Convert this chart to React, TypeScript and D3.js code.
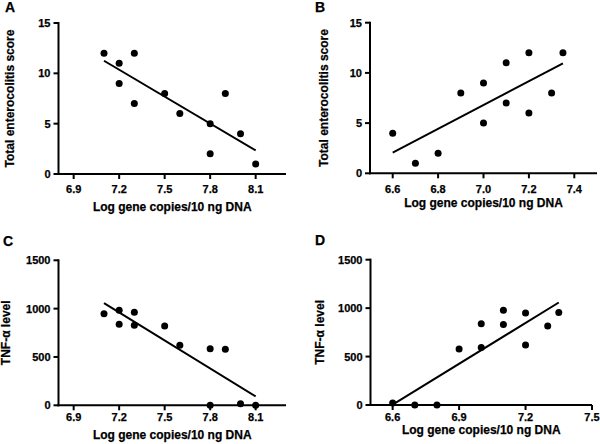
import React from "react";
import * as d3 from "d3";

// ---- Data ----
const aX = [7.1, 7.2, 7.2, 7.3, 7.3, 7.5, 7.6, 7.8, 7.8, 7.9, 8.0, 8.1];
const aY = [12, 11, 9, 12, 7, 8, 6, 5, 2, 8, 4, 1];
const aFitX = [7.1, 8.1];
const aFitY = [11.25, 2.35];

const bX = [6.6, 6.7, 6.8, 6.9, 7.0, 7.0, 7.1, 7.1, 7.2, 7.2, 7.3, 7.35];
const bY = [4, 1, 2, 8, 9, 5, 11, 7, 12, 6, 8, 12];
const bFitX = [6.6, 7.35];
const bFitY = [2.05, 10.95];

const cX = [7.1, 7.2, 7.2, 7.3, 7.3, 7.5, 7.6, 7.8, 7.8, 7.9, 8.0, 8.1];
const cY = [947, 982, 838, 962, 827, 820, 620, 585, 0, 579, 17, 0];
const cFitX = [7.1, 8.1];
const cFitY = [1058, 92];

const dX = [6.6, 6.7, 6.8, 6.9, 7.0, 7.0, 7.1, 7.1, 7.2, 7.2, 7.3, 7.35];
const dY = [20, 0, 0, 579, 593, 840, 977, 830, 949, 620, 815, 956];
const dFitX = [6.6, 7.35];
const dFitY = [3, 1058];

const ticksXA = [6.9, 7.2, 7.5, 7.8, 8.1];
const ticksXB = [6.6, 6.8, 7.0, 7.2, 7.4];
const ticksXD = [6.6, 6.9, 7.2, 7.5];
const ticksScore = [0, 5, 10, 15];
const ticksTnf = [0, 500, 1000, 1500];

const xTitle = "Log gene copies/10 ng DNA";
const scoreTitle = "Total enterocolitis score";
const tnfTitle = "TNF-α level";

const FONT = "'Liberation Sans', Arial, Helvetica, sans-serif";

type PanelProps = {
  letter: string;
  letterPos: [number, number];
  xs: number[];
  ys: number[];
  fitX: number[];
  fitY: number[];
  xDomain: [number, number];
  xRange: [number, number];
  yDomain: [number, number];
  yRange: [number, number];
  xTicks: number[];
  yTicks: number[];
  xFmt: (v: number) => string;
  yTitle: string;
  yTitleX: number;
  xTitleY: number;
  tickLabelY: number;
};

function Panel(p: PanelProps) {
  const x = d3.scaleLinear().domain(p.xDomain).range(p.xRange);
  const y = d3.scaleLinear().domain(p.yDomain).range(p.yRange);
  const axX = p.xRange[0];
  const axY = p.yRange[0];
  const line = d3
    .line<number>()
    .x((_, i) => x(p.fitX[i]))
    .y((v) => y(v));
  const tl = 5;
  return (
    <g fontFamily={FONT} fontWeight="bold" fill="#000">
      <g stroke="#000" strokeWidth={0.25}>
        <text x={p.letterPos[0]} y={p.letterPos[1]} fontSize={14}>
          {p.letter}
        </text>
        {p.yTicks.map((t) => (
          <text key={"ytl" + t} x={axX - tl - 3} y={y(t)} dy="0.36em" fontSize={11} textAnchor="end">
            {t}
          </text>
        ))}
        {p.xTicks.map((t) => (
          <text key={"xtl" + t} x={x(t)} y={p.tickLabelY} fontSize={11} textAnchor="middle">
            {p.xFmt(t)}
          </text>
        ))}
        <text
          x={(p.xRange[0] + p.xRange[1]) / 2}
          y={p.xTitleY}
          fontSize={12}
          textAnchor="middle"
        >
          {xTitle}
        </text>
        <text
          transform={`translate(${p.yTitleX},${(p.yRange[0] + p.yRange[1]) / 2}) rotate(-90)`}
          fontSize={12}
          textAnchor="middle"
        >
          {p.yTitle}
        </text>
      </g>
      {/* y axis */}
      <line x1={axX} x2={axX} y1={p.yRange[0] + 1} y2={p.yRange[1] - 1} stroke="#000" strokeWidth={2} />
      {p.yTicks.map((t) => (
        <line key={"yt" + t} x1={axX - tl} x2={axX} y1={y(t)} y2={y(t)} stroke="#000" strokeWidth={2} />
      ))}
      {/* x axis */}
      <line x1={axX - 1} x2={p.xRange[1]} y1={axY} y2={axY} stroke="#000" strokeWidth={2} />
      {p.xTicks.map((t) => (
        <line key={"xt" + t} x1={x(t)} x2={x(t)} y1={axY} y2={axY + tl} stroke="#000" strokeWidth={2} />
      ))}
      <path d={line(p.fitY) || ""} fill="none" stroke="#000" strokeWidth={2} />
      {p.xs.map((v, i) => (
        <circle key={"pt" + i} cx={x(v)} cy={y(p.ys[i])} r={3.5} fill="#000" />
      ))}
    </g>
  );
}

export default function App() {
  const f1 = d3.format(".1f");
  return (
    <svg
      width={600}
      height={444}
      style={{ position: "absolute", left: 0, top: 0, background: "#fff" }}
    >
      <rect width={600} height={444} fill="#fff" />
      <Panel
        letter="A"
        letterPos={[5, 12]}
        xs={aX}
        ys={aY}
        fitX={aFitX}
        fitY={aFitY}
        xDomain={[6.8, 8.3]}
        xRange={[58.5, 286]}
        yDomain={[0, 15]}
        yRange={[174, 23]}
        xTicks={ticksXA}
        yTicks={ticksScore}
        xFmt={f1}
        yTitle={scoreTitle}
        yTitleX={14}
        xTitleY={211}
        tickLabelY={193}
      />
      <Panel
        letter="B"
        letterPos={[315, 12]}
        xs={bX}
        ys={bY}
        fitX={bFitX}
        fitY={bFitY}
        xDomain={[6.5, 7.5]}
        xRange={[370, 597]}
        yDomain={[0, 15]}
        yRange={[173.3, 22.7]}
        xTicks={ticksXB}
        yTicks={ticksScore}
        xFmt={f1}
        yTitle={scoreTitle}
        yTitleX={328}
        xTitleY={206.5}
        tickLabelY={192.7}
      />
      <Panel
        letter="C"
        letterPos={[3, 246]}
        xs={cX}
        ys={cY}
        fitX={cFitX}
        fitY={cFitY}
        xDomain={[6.8, 8.3]}
        xRange={[58.5, 286]}
        yDomain={[0, 1500]}
        yRange={[405.3, 260.3]}
        xTicks={ticksXA}
        yTicks={ticksTnf}
        xFmt={f1}
        yTitle={tnfTitle}
        yTitleX={10}
        xTitleY={438.7}
        tickLabelY={421.3}
      />
      <Panel
        letter="D"
        letterPos={[315, 245]}
        xs={dX}
        ys={dY}
        fitX={dFitX}
        fitY={dFitY}
        xDomain={[6.5, 7.5]}
        xRange={[370.5, 592]}
        yDomain={[0, 1500]}
        yRange={[405, 259.7]}
        xTicks={ticksXD}
        yTicks={ticksTnf}
        xFmt={f1}
        yTitle={tnfTitle}
        yTitleX={324}
        xTitleY={433.7}
        tickLabelY={421}
      />
    </svg>
  );
}
